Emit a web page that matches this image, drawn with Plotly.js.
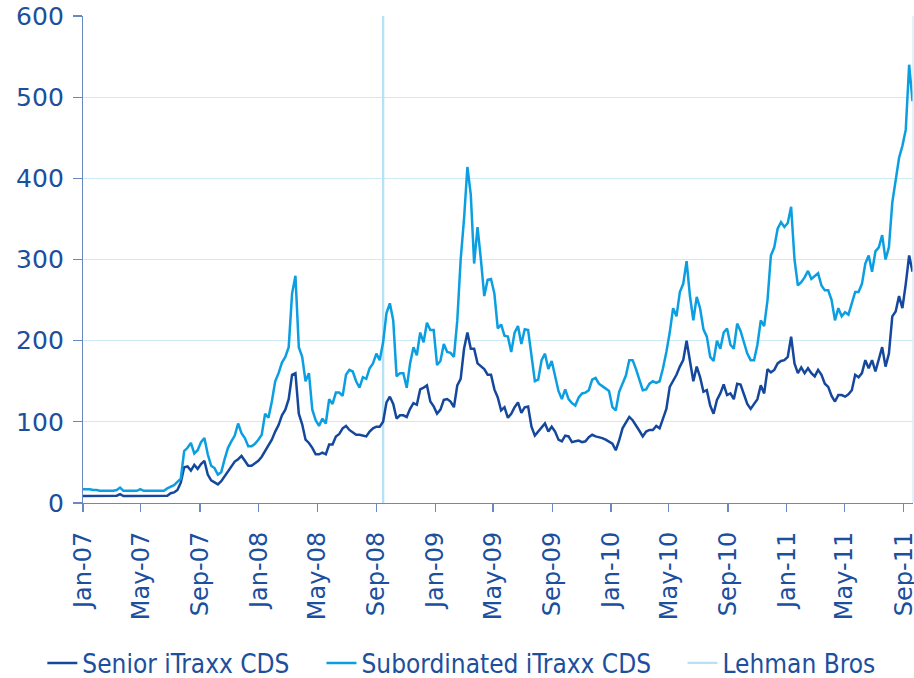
<!DOCTYPE html>
<html>
<head>
<meta charset="utf-8">
<script src="https://cdn.plot.ly/plotly-3.0.1.min.js"></script>
<style>
  html, body { margin: 0; padding: 0; background: #ffffff; }
  #chart { width: 914px; height: 678px; }
</style>
</head>
<body>
<div id="chart"></div>
<script>
// Weekly observations starting on this date (one value per week)
const startDate = '2007-01-01';

// Senior iTraxx CDS (basis points), weekly readings
const senior = [
  8.5,8.5,8.5,8.5,8.5,8.5,8.5,8.5,8.5,8.5,9,
  11,8.5,8.5,8.5,8.5,8.5,8.5,8.5,8.5,8.5,
  8.5,8.5,8.5,8.5,9,12,13,16,25,44,
  45,40,47,42,48,52,35,28,26,23,
  27,33,39,45,51,54,58,52,46,46,
  49,52,57,64,70,78,88,96,108,115,
  128,158,160,110,97,78,74,68,60,60,
  62,60,72,72,82,85,92,95,90,87,
  84,84,83,82,88,92,94,94,100,124,
  131,122,104,108,108,106,116,123,121,140,
  142,145,125,119,110,115,127,128,125,118,
  145,153,190,210,190,190,172,168,165,158,
  158,140,130,114,118,105,110,118,124,111,
  118,119,94,83,88,94,98,88,94,88,
  78,76,83,82,75,76,77,75,76,81,
  84,82,81,80,78,76,73,65,77,92,
  100,106,102,96,89,82,88,90,90,95,
  92,104,116,143,150,158,168,176,200,172,
  150,168,155,137,139,120,110,127,135,146,
  133,135,128,147,146,134,122,116,122,128,
  145,135,165,161,164,172,175,176,180,205,
  172,160,167,160,166,160,156,164,158,147,
  143,132,125,133,133,131,134,139,158,155,
  160,176,166,176,162,178,192,168,184,230,
  236,255,240,270,305,285
];

// Subordinated iTraxx CDS (basis points), weekly readings
const subordinated = [
  17,17,17,16,16,15,15,15,15,15,16,
  19,15,15,15,15,15,17,15,15,15,
  15,15,15,15,18,20,22,26,30,64,
  68,74,61,65,75,80,60,46,43,35,
  38,54,68,76,83,98,86,80,70,70,
  73,78,84,110,105,125,150,160,173,180,
  192,258,280,192,180,150,160,115,102,95,
  104,98,128,122,136,136,132,158,164,162,
  150,142,155,153,166,172,184,176,198,234,
  246,225,156,160,160,142,172,192,182,210,
  198,222,213,213,170,175,196,186,185,180,
  225,300,350,414,380,295,340,300,255,275,
  276,258,215,220,206,205,186,210,218,196,
  214,213,180,150,152,176,184,165,175,155,
  138,128,140,128,123,120,130,135,136,139,
  152,154,147,144,141,138,118,114,137,148,
  157,176,176,165,152,139,140,147,150,148,
  150,166,186,210,240,230,260,270,298,255,
  225,254,240,214,205,180,175,200,190,210,
  215,195,190,221,212,198,184,176,176,195,
  225,218,250,305,315,338,346,340,345,365,
  300,268,272,278,286,276,279,283,268,262,
  262,250,225,240,230,235,232,245,260,260,
  270,295,305,285,310,315,330,300,315,370,
  395,425,440,460,540,495
];

// Lehman Brothers marker
const lehmanDate = '2008-09-15';
const lehmanSpan = [0, 600];

// Axis ticks
const tickDates = ['2007-01-01','2007-05-01','2007-09-01','2008-01-01','2008-05-01','2008-09-01',
  '2009-01-01','2009-05-01','2009-09-01','2010-01-01','2010-05-01','2010-09-01',
  '2011-01-01','2011-05-01','2011-09-01'];
const tickLabels = ['Jan-07','May-07','Sep-07','Jan-08','May-08','Sep-08','Jan-09','May-09',
  'Sep-09','Jan-10','May-10','Sep-10','Jan-11','May-11','Sep-11'];
const seriesNames = ['Senior iTraxx CDS', 'Subordinated iTraxx CDS', 'Lehman Bros'];

// Build weekly date list
const t0 = Date.parse(startDate + 'T00:00:00Z');
const dates = senior.map((_, k) => new Date(t0 + k * 7 * 86400000).toISOString().slice(0, 10));

const textColor = '#1c4f9d';
const legendFont = { family: '"DejaVu Sans Condensed", "DejaVu Sans", sans-serif', size: 26, color: textColor };

const traces = [
  { x: dates, y: senior, type: 'scatter', mode: 'lines', name: seriesNames[0],
    line: { color: '#15489d', width: 2.5 }, legend: 'legend' },
  { x: dates, y: subordinated, type: 'scatter', mode: 'lines', name: seriesNames[1],
    line: { color: '#0b9fe1', width: 2.5 }, legend: 'legend2' },
  { x: [lehmanDate, lehmanDate], y: lehmanSpan, type: 'scatter', mode: 'lines', name: seriesNames[2],
    line: { color: '#b7e2f6', width: 2.4 }, legend: 'legend3' }
];
// draw Lehman behind series
const ordered = [traces[2], traces[0], traces[1]];

const legendCommon = { orientation: 'h', yanchor: 'middle', xanchor: 'left', font: legendFont,
  bgcolor: 'rgba(0,0,0,0)', borderwidth: 0, traceorder: 'normal' };

const layout = {
  width: 914, height: 678,
  margin: { l: 83, r: 1, t: 16, b: 175, pad: 0, autoexpand: false },
  paper_bgcolor: '#ffffff', plot_bgcolor: '#ffffff',
  font: { family: '"DejaVu Sans", sans-serif', color: textColor },
  showlegend: true,
  xaxis: {
    type: 'date', range: ['2007-01-01', '2011-09-20'],
    tickmode: 'array', tickvals: tickDates, ticktext: tickLabels,
    tickangle: -90, tickfont: { family: '"DejaVu Sans", sans-serif', size: 24, color: textColor },
    ticklabeloverflow: 'allow', ticklabelstandoff: 10,
    ticks: 'outside', ticklen: 8, tickwidth: 1.2, tickcolor: '#6a89c0',
    showline: true, linecolor: '#6a89c0', linewidth: 1.2,
    showgrid: false, zeroline: false, fixedrange: true, automargin: false
  },
  yaxis: {
    range: [0, 600], tickmode: 'linear', tick0: 0, dtick: 100,
    tickfont: { family: '"DejaVu Sans", sans-serif', size: 25, color: textColor },
    ticklabelstandoff: 4,
    ticks: 'outside', ticklen: 9, tickwidth: 1.2, tickcolor: '#6a89c0',
    showline: true, linecolor: '#6a89c0', linewidth: 1.2,
    showgrid: true, gridcolor: '#cdeaf7', gridwidth: 1.2,
    zeroline: false, fixedrange: true, automargin: false
  },
  legend: Object.assign({}, legendCommon, { x: -0.049, y: -0.3285 }),
  legend2: Object.assign({}, legendCommon, { x: 0.2873, y: -0.3285 }),
  legend3: Object.assign({}, legendCommon, { x: 0.7223, y: -0.3285 }),
  shapes: [
    { type: 'line', xref: 'paper', yref: 'paper', x0: 1, x1: 1, y0: 0, y1: 1,
      line: { color: '#cdeaf7', width: 1.2 } }
  ]
};

Plotly.newPlot('chart', ordered, layout, { displayModeBar: false, staticPlot: true });
</script>
</body>
</html>
